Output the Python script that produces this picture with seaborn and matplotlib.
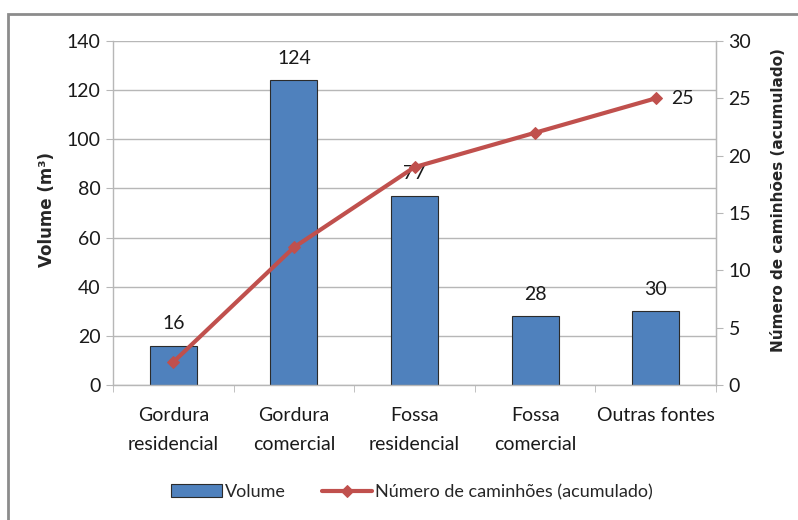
import matplotlib
matplotlib.use("Agg")
import matplotlib.pyplot as plt
import seaborn as sns
import pandas as pd
from matplotlib.patches import Rectangle
from matplotlib.ticker import MultipleLocator, FixedLocator

categories = ["Gordura\nresidencial", "Gordura\ncomercial", "Fossa\nresidencial",
              "Fossa\ncomercial", "Outras fontes"]
volume = [16, 124, 77, 28, 30]
caminhoes = [2, 12, 19, 22, 25]

sns.set_style("white")
plt.rcParams['font.family'] = ['Lato', 'DejaVu Sans']

df = pd.DataFrame({"cat": categories, "volume": volume,
                   "idx": list(range(len(categories))), "cam": caminhoes})

fig = plt.figure(figsize=(7.98, 5.20), dpi=100)
ax = fig.add_axes([113/798, 1-385/520, (716-113)/798, (385-41)/520])

bar_c = "#4F81BD"
line_c = "#C0504D"
grid_c = "#B7B7B7"

sns.barplot(data=df, x="cat", y="volume", ax=ax, color=bar_c, width=0.39,
            edgecolor="#2B2B2B", linewidth=0.8, saturation=1, label="Volume")
if ax.get_legend() is not None:
    ax.get_legend().remove()
ax.set_ylim(0, 140)
ax.yaxis.set_major_locator(MultipleLocator(20))
ax.grid(axis="y", color=grid_c, linewidth=1)
ax.set_axisbelow(True)
ax.set_xlabel("")
ax.set_ylabel("Volume (m³)", family="DejaVu Sans", fontweight="bold", fontsize=12)
ax.yaxis.set_label_coords(-0.094, 0.509)
ax.tick_params(axis="y", labelsize=14, length=5, color=grid_c, direction="out", left=True,
               pad=4, labelcolor="#1a1a1a")
ax.spines["top"].set_visible(False)
for s in ["left", "right", "bottom"]:
    ax.spines[s].set_color(grid_c)
    ax.spines[s].set_linewidth(1)

for i, v in enumerate(volume):
    ax.text(i, v + 5.5, str(v), ha="center", va="bottom", fontsize=14, color="#1a1a1a")

ax2 = ax.twinx()
sns.lineplot(data=df, x="idx", y="cam", ax=ax2, color=line_c, linewidth=3,
             marker="D", markersize=6, markeredgecolor=line_c,
             label="Número de caminhões (acumulado)", legend=False)
ax2.set_ylim(0, 30)
ax2.yaxis.set_major_locator(MultipleLocator(5))
ax2.set_ylabel("Número de caminhões (acumulado)", family="DejaVu Sans", fontweight="bold",
               fontsize=11)
ax2.yaxis.set_label_coords(1.091, 0.538)
ax2.tick_params(axis="y", labelsize=14, length=5, color=grid_c, direction="out", right=True,
                pad=4, labelcolor="#1a1a1a")
for s in ["top", "left", "bottom"]:
    ax2.spines[s].set_visible(False)
ax2.spines["right"].set_color(grid_c)
ax2.set_xlabel("")
ax2.text(4 + 0.13, caminhoes[-1], str(caminhoes[-1]), ha="left", va="center",
         fontsize=14, color="#1a1a1a")

# x axis: category labels and boundary ticks
ax.set_xlim(-0.5, 4.5)
ax.set_xticks(range(len(categories)), labels=categories, linespacing=1.85,
              fontsize=14, color="#1a1a1a")
ax.tick_params(axis="x", which="major", length=0, pad=16)
ax.xaxis.set_minor_locator(FixedLocator([-0.5, 0.5, 1.5, 2.5, 3.5, 4.5]))
ax.tick_params(axis="x", which="minor", length=5, color=grid_c, direction="out", bottom=True)

h1, l1 = ax.get_legend_handles_labels()
h2, l2 = ax2.get_legend_handles_labels()
fig.legend(h1 + h2, l1 + l2, loc="center", bbox_to_anchor=(412/798, 1-492/520),
           ncol=2, frameon=False, fontsize=13, handlelength=2.8, handletextpad=0.15,
           columnspacing=2.0)

fig.patches.append(Rectangle((8/798, -0.2), 1.2, 1.2 - 14/520,
                             transform=fig.transFigure, fill=False,
                             edgecolor="#8C8C8C", linewidth=2))

fig.savefig("out.png", dpi=100)
